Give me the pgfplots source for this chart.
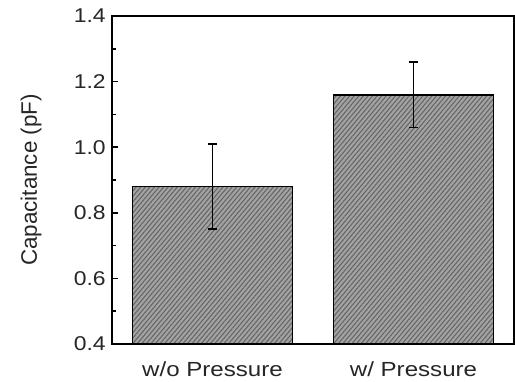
\documentclass[border=0pt]{standalone}
\usepackage{pgfplots}
\pgfplotsset{compat=1.18}
\usepackage{fontspec}
\setmainfont{Liberation Sans}
\usetikzlibrary{patterns,patterns.meta,calc}
\begin{document}
\begin{tikzpicture}[x=1bp,y=1bp]
\begin{axis}[
  scale only axis,
  width=402bp, height=328bp,
  xmin=-0.5, xmax=1.5,
  ymin=0.4, ymax=1.4,
  xtick={0,1},
  xticklabels={w/o Pressure, w/ Pressure},
  xtick style={draw=none},
  ytick={0.4,0.6,...,1.41},
  minor ytick={0.5,0.7,0.9,1.1,1.3},
  yticklabel style={/pgf/number format/fixed,/pgf/number format/fixed zerofill,/pgf/number format/precision=1},
  /pgf/number format/assume math mode=true,
  ytick pos=left,
  tick align=inside,
  major tick length=6bp,
  minor tick length=4bp,
  every tick/.style={black, line width=1.5bp},
  axis line style={line width=1.9bp},
  yticklabel style={font=\fontsize{20}{23}\selectfont, text=black!85, xscale=1.15, xshift=-2bp},
  xticklabel style={font=\fontsize{20.5}{24}\selectfont, text=black!85, xscale=1.18, yshift=-14bp},
  ylabel={Capacitance (pF)},
  ylabel style={font=\fontsize{22.5}{26}\selectfont, text=black!85, yshift=25bp},
  clip=false,
]
\addplot[
  ybar, bar width=160bp,
  draw=black, line width=1.8bp,
  fill=gray!72,
  postaction={pattern={Lines[angle=50,distance=3.5bp,line width=1.1bp]}, pattern color=black!60},
  error bars/.cd, y dir=both, y explicit,
  error bar style={line width=1.4bp, black},
  error mark options={rotate=90, mark size=4.5bp, line width=1.4bp, black},
] coordinates {
  (0,0.88) +- (0,0.13)
  (1,1.16) +- (0,0.10)
};
\end{axis}
\pgfresetboundingbox
\useasboundingbox ($(current axis.south west)+(-112bp,-38bp)$) rectangle ($(current axis.north east)+(1bp,16bp)$);
\end{tikzpicture}
\end{document}
